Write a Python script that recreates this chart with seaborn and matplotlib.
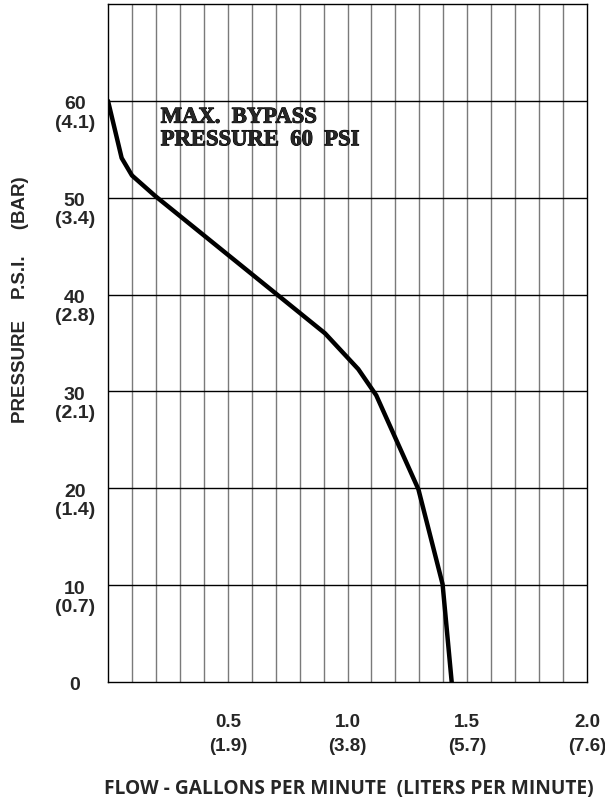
import matplotlib
matplotlib.use("Agg")
import matplotlib.pyplot as plt
import matplotlib.transforms as mtransforms
import matplotlib.patheffects as pe
import seaborn as sns
import pandas as pd

# pump bypass curve
flow_gpm = [0.0, 0.057, 0.10, 0.196, 0.906, 1.045, 1.12, 1.296, 1.397, 1.435]
pressure_psi = [60, 54.1, 52.3, 50.2, 36.0, 32.3, 29.6, 19.9, 10.1, 0]

x_ticks = [0.5, 1.0, 1.5, 2.0]
x_labels = ["0.5\n(1.9)", "1.0\n(3.8)", "1.5\n(5.7)", "2.0\n(7.6)"]
y_ticks = [0, 10, 20, 30, 40, 50, 60]
y_labels = ["0", "10\n(0.7)", "20\n(1.4)", "30\n(2.1)", "40\n(2.8)", "50\n(3.4)", "60\n(4.1)"]
x_grid = [i / 10 for i in range(1, 20)]
y_grid = [10, 20, 30, 40, 50, 60]

sns.set_style("white")
plt.rcParams['font.family'] = ['Liberation Sans', 'DejaVu Sans']

df = pd.DataFrame({"flow": flow_gpm, "pressure": pressure_psi})

fig = plt.figure(figsize=(6.05, 8.04), dpi=100)
ax = fig.add_axes([108 / 605, 1 - 683 / 804, 479 / 605, 678 / 804])

for gx in x_grid:
    ax.axvline(gx, color="#7a7a7a", lw=1.0, zorder=1)
for gy in y_grid:
    ax.axhline(gy, color="black", lw=1.0, zorder=1)

sns.lineplot(data=df, x="flow", y="pressure", sort=False, color="black",
             lw=3.2, ax=ax, zorder=3)

ax.set_xlim(0, 2.0)
ax.set_ylim(0, 70)
for s in ax.spines.values():
    s.set_color("black")
    s.set_linewidth(1.0)

ax.set_xticks(x_ticks)
ax.set_xticklabels(x_labels, fontsize=13.5, fontweight="bold", linespacing=1.5)
ax.tick_params(axis="x", length=10.5, width=1, color="#7a7a7a", pad=12, direction="out")

ax.set_yticks(y_ticks)
ax.set_yticklabels(y_labels, fontsize=14, fontweight="bold", linespacing=1.1)
ax.tick_params(axis="y", length=0, pad=24)
shift = mtransforms.ScaledTranslation(0, 4 / 72, fig.dpi_scale_trans)
for lab in ax.get_yticklabels():
    lab.set_horizontalalignment("center")
    lab.set_verticalalignment("top")
    lab.set_transform(lab.get_transform() + shift)

ax.set_xlabel("FLOW - GALLONS PER MINUTE  (LITERS PER MINUTE)",
              fontsize=13.8, fontweight="bold", family=["Open Sans", "DejaVu Sans"])
ax.xaxis.set_label_coords(0.502, -0.1563)
ax.xaxis.label.set_verticalalignment("center")
ax.set_ylabel("PRESSURE    P.S.I.     (BAR)", fontsize=13.5, fontweight="bold")
ax.yaxis.set_label_coords(-0.1827, 0.565)
ax.yaxis.label.set_verticalalignment("center")

ax.text(0.22, 59.4, "MAX.  BYPASS\nPRESSURE  60  PSI", ha="left", va="top",
        fontsize=16.3, fontweight="bold", family=["Liberation Serif", "DejaVu Serif"],
        linespacing=1.1, zorder=4,
        path_effects=[pe.withStroke(linewidth=0.7, foreground="black")])

fig.savefig("out.png", dpi=100, facecolor="white")
